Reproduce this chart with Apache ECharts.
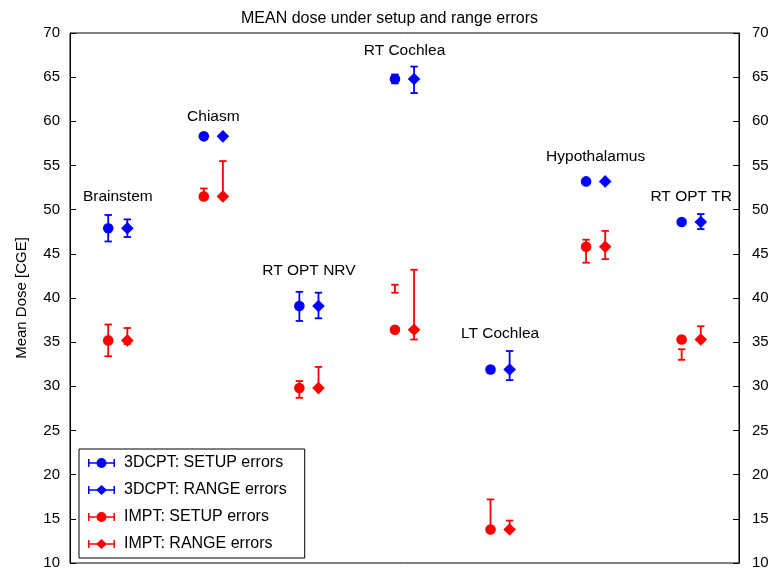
<!DOCTYPE html>
<html>
<head>
<meta charset="utf-8">
<script src="https://cdn.jsdelivr.net/npm/echarts@6/dist/echarts.min.js"></script>
<style>
  html, body { margin: 0; padding: 0; background: #fff; }
  #grafico { width: 779px; height: 578px; }
</style>
</head>
<body>
<div id="grafico"></div>
<script>
// structures along the x axis
const structures = ['Brainstem', 'Chiasm', 'RT OPT NRV', 'RT Cochlea', 'LT Cochlea', 'Hypothalamus', 'RT OPT TR'];
// where the structure names sit (dose units)
const labelDose = [51.5, 60.5, 43.1, 68.0, 36.0, 56.0, 51.5];

// 3DCPT, setup errors
const cptSetupMean = [47.9, 58.3, 39.1, 64.8, 31.9, 53.2, 48.6];
const cptSetupLow  = [46.4, 58.2, 37.4, 64.3, 31.5, 53.1, 48.5];
const cptSetupHigh = [49.4, 58.4, 40.7, 65.3, 32.2, 53.3, 48.7];
// 3DCPT, range errors
const cptRangeMean = [47.9, 58.3, 39.1, 64.8, 31.9, 53.2, 48.6];
const cptRangeLow  = [46.9, 58.2, 37.7, 63.2, 30.7, 53.1, 47.8];
const cptRangeHigh = [48.9, 58.4, 40.6, 66.2, 34.0, 53.3, 49.5];
// IMPT, setup errors
const imptSetupMean = [35.2, 51.5, 29.8, 36.4, 13.8, 45.8, 35.3];
const imptSetupLow  = [33.4, 51.4, 28.7, 40.6, 13.7, 44.0, 33.0];
const imptSetupHigh = [37.0, 52.4, 30.6, 41.5, 17.2, 46.6, 34.2];
// IMPT, range errors
const imptRangeMean = [35.2, 51.5, 29.8, 36.4, 13.8, 45.8, 35.3];
const imptRangeLow  = [34.8, 51.3, 29.7, 35.3, 13.7, 44.4, 35.2];
const imptRangeHigh = [36.6, 55.5, 32.2, 43.2, 14.8, 47.6, 36.8];

const yTicks = [10, 70, 5]; // min, max, step

const BLUE = '#0000ff';
const RED = '#ff0000';
const FONT = 'Liberation Sans, Arial, Helvetica, sans-serif';

const iconCircle = 'path://M0,1H1.5V4.25H25.5V1H27V9H25.5V5.75H1.5V9H0Z M8.5,5A5,5,0,1,1,18.5,5A5,5,0,1,1,8.5,5Z';
const iconDiamond = 'path://M0,1H1.5V4.25H25.5V1H27V9H25.5V5.75H1.5V9H0Z M13.5,0L19,5L13.5,10L8,5Z';

function buildData(mean, low, high, offset) {
    return mean.map((m, i) => [i + 1 + offset, m, low[i], high[i]]);
}

function renderErr(shape) {
    return function (params, api) {
        const p = api.coord([api.value(0), api.value(1)]);
        const lo = api.coord([api.value(0), api.value(2)]);
        const hi = api.coord([api.value(0), api.value(3)]);
        const color = api.visual('color');
        const st = { stroke: color, lineWidth: 1.8 };
        const cap = 3.7;
        const children = [
            { type: 'line', shape: { x1: lo[0], y1: lo[1], x2: hi[0], y2: hi[1] }, style: st },
            { type: 'line', shape: { x1: lo[0] - cap, y1: lo[1], x2: lo[0] + cap, y2: lo[1] }, style: st },
            { type: 'line', shape: { x1: hi[0] - cap, y1: hi[1], x2: hi[0] + cap, y2: hi[1] }, style: st }
        ];
        if (shape === 'circle') {
            children.push({ type: 'circle', shape: { cx: p[0], cy: p[1], r: 5.3 }, style: { fill: color } });
        } else {
            const d = 6.3;
            children.push({
                type: 'polygon',
                shape: { points: [[p[0], p[1] - d], [p[0] + d, p[1]], [p[0], p[1] + d], [p[0] - d, p[1]]] },
                style: { fill: color }
            });
        }
        return { type: 'group', children: children };
    };
}

function errSeries(name, color, shape, data) {
    return {
        name: name,
        type: 'custom',
        renderItem: renderErr(shape),
        itemStyle: { color: color },
        encode: { x: 0, y: [1, 2, 3] },
        data: data,
        z: 3
    };
}

const yAxisBase = {
    type: 'value',
    min: yTicks[0],
    max: yTicks[1],
    interval: yTicks[2],
    splitLine: { show: false },
    axisLine: { show: true, lineStyle: { color: '#000', width: 1 } },
    axisTick: { show: true, inside: true, length: 6, lineStyle: { color: '#000' } },
    axisLabel: { color: '#000', fontSize: 15, fontFamily: FONT }
};

const myChart = echarts.init(document.getElementById('grafico'));

const option = {
    backgroundColor: '#fff',
    animation: false,
    title: {
        text: 'MEAN dose under setup and range errors',
        left: 'center',
        top: 6,
        textStyle: { color: '#000', fontSize: 16, fontWeight: 'normal', fontFamily: FONT }
    },
    grid: {
        left: 70, right: 40, top: 33, bottom: 15,
        show: true, borderColor: '#000', borderWidth: 1, backgroundColor: 'transparent'
    },
    legend: {
        orient: 'vertical',
        left: 79,
        top: 449,
        padding: [6, 18, 6, 9],
        itemWidth: 27,
        itemHeight: 10,
        itemGap: 11,
        backgroundColor: '#fff',
        borderColor: '#000',
        borderWidth: 1,
        borderRadius: 0,
        textStyle: { color: '#000', fontSize: 16, fontFamily: FONT, lineHeight: 16, padding: [0, 0, 0, 4] },
        data: [
            { name: '3DCPT: SETUP errors', icon: iconCircle },
            { name: '3DCPT: RANGE errors', icon: iconDiamond },
            { name: 'IMPT: SETUP errors', icon: iconCircle },
            { name: 'IMPT: RANGE errors', icon: iconDiamond }
        ]
    },
    xAxis: {
        type: 'value',
        min: 0.5,
        max: 7.5,
        axisLine: { show: false },
        axisTick: { show: false },
        axisLabel: { show: false },
        splitLine: { show: false }
    },
    yAxis: [
        Object.assign({}, yAxisBase, {
            position: 'left',
            name: 'Mean Dose [CGE]',
            nameLocation: 'middle',
            nameGap: 41,
            nameTextStyle: { color: '#000', fontSize: 15, fontFamily: FONT },
            axisLabel: Object.assign({}, yAxisBase.axisLabel, { margin: 10 })
        }),
        Object.assign({}, yAxisBase, {
            position: 'right',
            axisLabel: Object.assign({}, yAxisBase.axisLabel, { margin: 13 })
        })
    ],
    series: [
        errSeries('3DCPT: SETUP errors', BLUE, 'circle', buildData(cptSetupMean, cptSetupLow, cptSetupHigh, -0.1)),
        errSeries('3DCPT: RANGE errors', BLUE, 'diamond', buildData(cptRangeMean, cptRangeLow, cptRangeHigh, 0.1)),
        errSeries('IMPT: SETUP errors', RED, 'circle', buildData(imptSetupMean, imptSetupLow, imptSetupHigh, -0.1)),
        errSeries('IMPT: RANGE errors', RED, 'diamond', buildData(imptRangeMean, imptRangeLow, imptRangeHigh, 0.1)),
        {
            name: 'labels',
            type: 'custom',
            silent: true,
            data: structures.map((s, i) => [i + 1, labelDose[i]]),
            renderItem: function (params, api) {
                const p = api.coord([api.value(0), api.value(1)]);
                return {
                    type: 'text',
                    x: p[0],
                    y: p[1],
                    style: {
                        text: structures[params.dataIndex],
                        fill: '#000',
                        font: '15.5px ' + FONT,
                        align: 'center',
                        verticalAlign: 'middle'
                    }
                };
            }
        }
    ]
};

myChart.setOption(option);
</script>
</body>
</html>
